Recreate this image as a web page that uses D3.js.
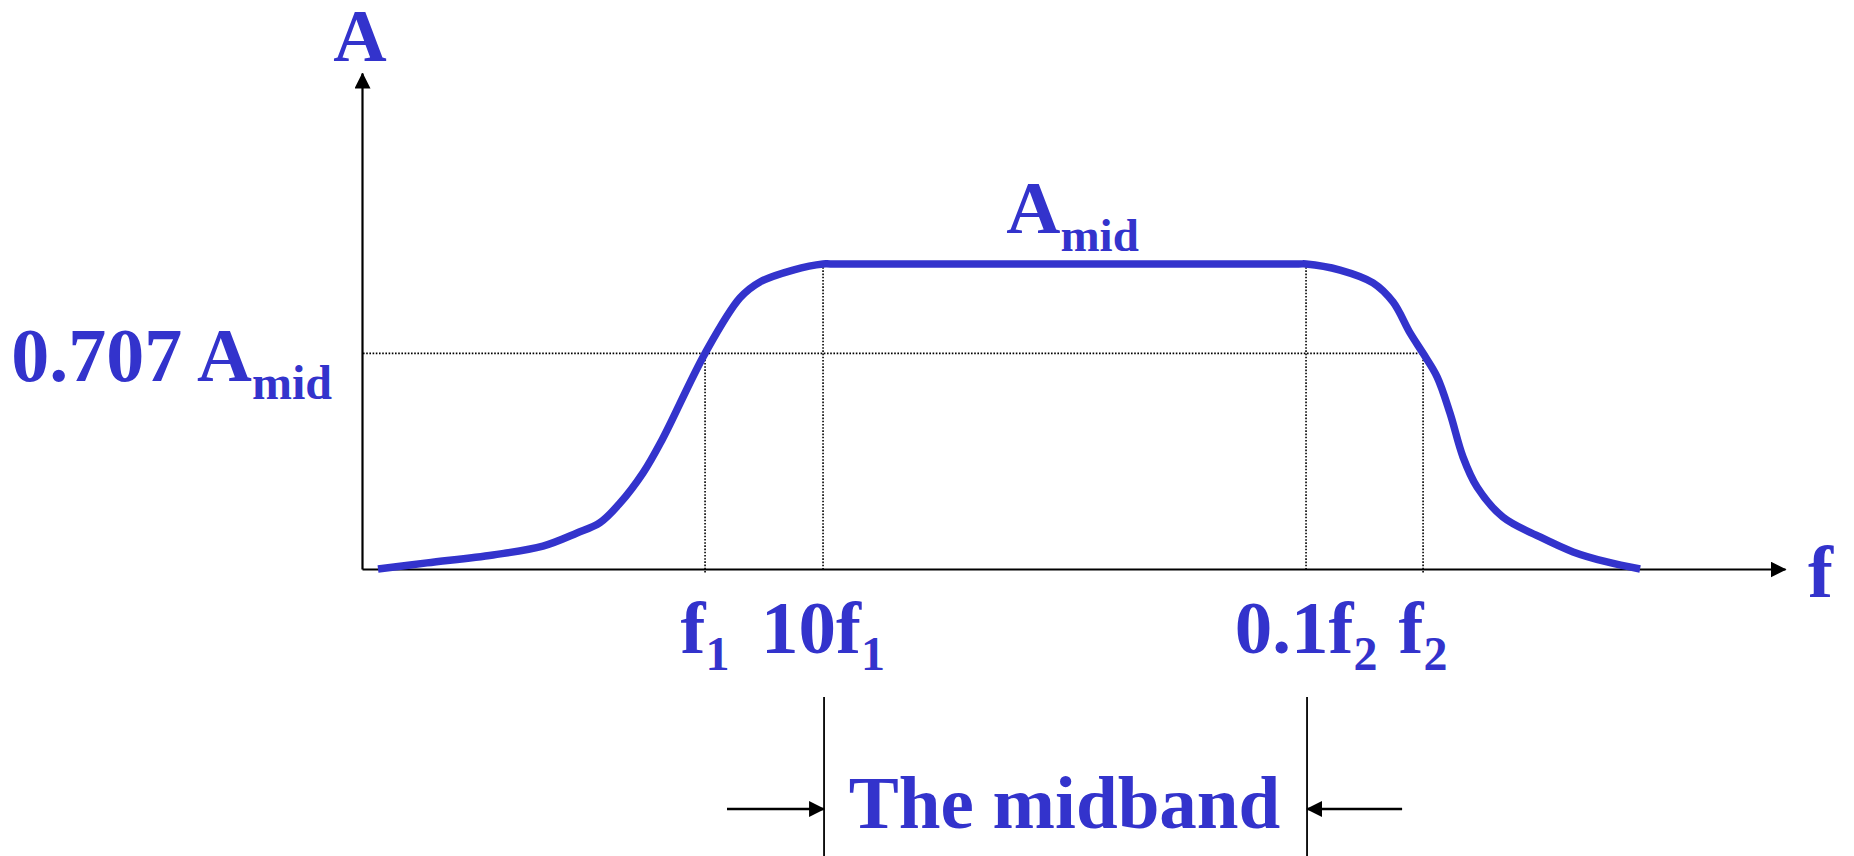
<!DOCTYPE html>
<html>
<head>
<meta charset="utf-8">
<script src="https://cdn.jsdelivr.net/npm/d3@7"></script>
<style>
  html, body { margin: 0; padding: 0; background: #fff; }
  svg { display: block; }
  .lbl { font-family: "Liberation Serif", "Times New Roman", serif; font-weight: bold; fill: #3333cc; }
</style>
</head>
<body>
<svg id="drawing_region"></svg>
<script>
// frequency in decades along the f axis, gain relative to Amid
const axisDecades = [0, 12];
const axisGain = [0, 1.626];

const curveU = [0.135, 0.548, 1.105, 1.526, 1.813, 2.007, 2.176, 2.370, 2.530, 2.893, 3.188, 3.356, 3.635, 3.888, 3.95,
                7.90, 7.961, 8.248, 8.526, 8.695, 8.838, 8.948, 9.066, 9.175, 9.285, 9.403, 9.622, 9.934, 10.213, 10.499, 10.778];
const curveGain = [0, 0.020, 0.046, 0.075, 0.118, 0.152, 0.216, 0.315, 0.423, 0.707, 0.889, 0.941, 0.980, 1.0, 1.0,
                   1.0, 1.0, 0.980, 0.938, 0.875, 0.774, 0.707, 0.630, 0.511, 0.367, 0.269, 0.170, 0.105, 0.056, 0.023, 0];

const markerMain = ['f', '10f', '0.1f', 'f'];
const markerSub = ['1', '1', '2', '2'];
const markerPos = [2.893, 3.888, 7.961, 8.948];
const markerLevel = [0.707, 1, 1, 0.707];

const cutoffGain = 0.707;
const midGain = 1;
const arrowLen = 0.81; // decades

const config = {
    width: 1854,
    height: 856,
    margin: {top: 73, right: 69, bottom: 287, left: 362}
};
const blue = '#3333cc';

const svg = d3.select('#drawing_region')
    .attr('width', config.width)
    .attr('height', config.height);

const x = d3.scaleLinear()
    .domain(axisDecades)
    .range([config.margin.left, config.width - config.margin.right]);

const y = d3.scaleLinear()
    .domain(axisGain)
    .range([config.height - config.margin.bottom, config.margin.top]);

// arrow heads
const defs = svg.append('defs');
defs.append('marker')
    .attr('id', 'arrow')
    .attr('markerUnits', 'userSpaceOnUse')
    .attr('viewBox', '0 0 16 16')
    .attr('refX', 15).attr('refY', 8)
    .attr('markerWidth', 16).attr('markerHeight', 16)
    .attr('orient', 'auto')
    .append('path')
    .attr('d', 'M0,0 L16,8 L0,16 Z')
    .attr('fill', '#000');

// axes
const xaxis = d3.axisBottom(x).tickValues([]).tickSizeOuter(0);
const yaxis = d3.axisLeft(y).tickValues([]).tickSizeOuter(0);

svg.append('g')
    .attr('transform', `translate(0, ${y(0)})`)
    .call(xaxis)
    .select('.domain')
    .attr('stroke', '#000')
    .attr('stroke-width', 2.2)
    .attr('marker-end', 'url(#arrow)');

svg.append('g')
    .attr('transform', `translate(${x(0)}, 0)`)
    .call(yaxis)
    .select('.domain')
    .attr('stroke', '#000')
    .attr('stroke-width', 2.2)
    .attr('marker-end', 'url(#arrow)');

// dotted guides
const guides = svg.append('g')
    .attr('stroke', '#000')
    .attr('stroke-width', 1.6)
    .attr('stroke-dasharray', '1.6,1.6')
    .attr('fill', 'none');

guides.append('line')
    .attr('x1', x(0) + 1).attr('x2', x(markerPos[3]))
    .attr('y1', y(cutoffGain)).attr('y2', y(cutoffGain));

markerPos.forEach((p, i) => {
    guides.append('line')
        .attr('x1', x(p)).attr('x2', x(p))
        .attr('y1', y(markerLevel[i]))
        .attr('y2', y(0) + (markerLevel[i] < 1 ? 5 : 0));
});

// response curve
const line = d3.line()
    .x(d => x(d[0]))
    .y(d => y(d[1]))
    .curve(d3.curveCatmullRom.alpha(0.5));

svg.append('path')
    .datum(curveU.map((u, i) => [u, curveGain[i]]))
    .attr('d', line)
    .attr('fill', 'none')
    .attr('stroke', blue)
    .attr('stroke-width', 7.5)
    .attr('stroke-linejoin', 'round');

// labels with subscripts
function subText(g, px, py, anchor, main, sub, size, subSize, shift) {
    const t = g.append('text')
        .attr('class', 'lbl')
        .attr('x', px).attr('y', py)
        .attr('text-anchor', anchor)
        .attr('font-size', size);
    t.append('tspan').text(main);
    if (sub) {
        t.append('tspan')
            .attr('dy', shift)
            .attr('font-size', subSize)
            .text(sub);
    }
    return t;
}

const labels = svg.append('g');

markerPos.forEach((p, i) => {
    subText(labels, x(p), y(0) + 84, 'middle', markerMain[i], markerSub[i], 75, 48, 17);
});

subText(labels, x(0) - 2, y(axisGain[1]) - 12, 'middle', 'A', null, 74);
subText(labels, x(axisDecades[1]) + 23, y(0) + 28, 'start', 'f', null, 75);
subText(labels, x(0) - 30, y(cutoffGain) + 28, 'end', '0.707 A', 'mid', 76, 48, 18);
subText(labels, (x(markerPos[1]) + x(markerPos[2])) / 2 + 8, y(midGain) - 31, 'middle', 'A', 'mid', 75, 47, 18);

// midband bracket
const bandTop = y(0) + 128;
const bandArrowY = y(0) + 240;
const band = svg.append('g');

[markerPos[1], markerPos[2]].forEach(p => {
    band.append('line')
        .attr('x1', x(p) + 1).attr('x2', x(p) + 1)
        .attr('y1', bandTop).attr('y2', config.height)
        .attr('stroke', '#000')
        .attr('stroke-width', 1.8);
});

band.append('line')
    .attr('x1', x(markerPos[1] - arrowLen)).attr('x2', x(markerPos[1]) + 1)
    .attr('y1', bandArrowY).attr('y2', bandArrowY)
    .attr('stroke', '#000').attr('stroke-width', 2.4)
    .attr('marker-end', 'url(#arrow)');

band.append('line')
    .attr('x1', x(markerPos[2] + arrowLen)).attr('x2', x(markerPos[2]) + 1)
    .attr('y1', bandArrowY).attr('y2', bandArrowY)
    .attr('stroke', '#000').attr('stroke-width', 2.4)
    .attr('marker-end', 'url(#arrow)');

subText(band, (x(markerPos[1]) + x(markerPos[2])) / 2, bandArrowY + 19, 'middle', 'The midband', null, 75);
</script>
</body>
</html>
